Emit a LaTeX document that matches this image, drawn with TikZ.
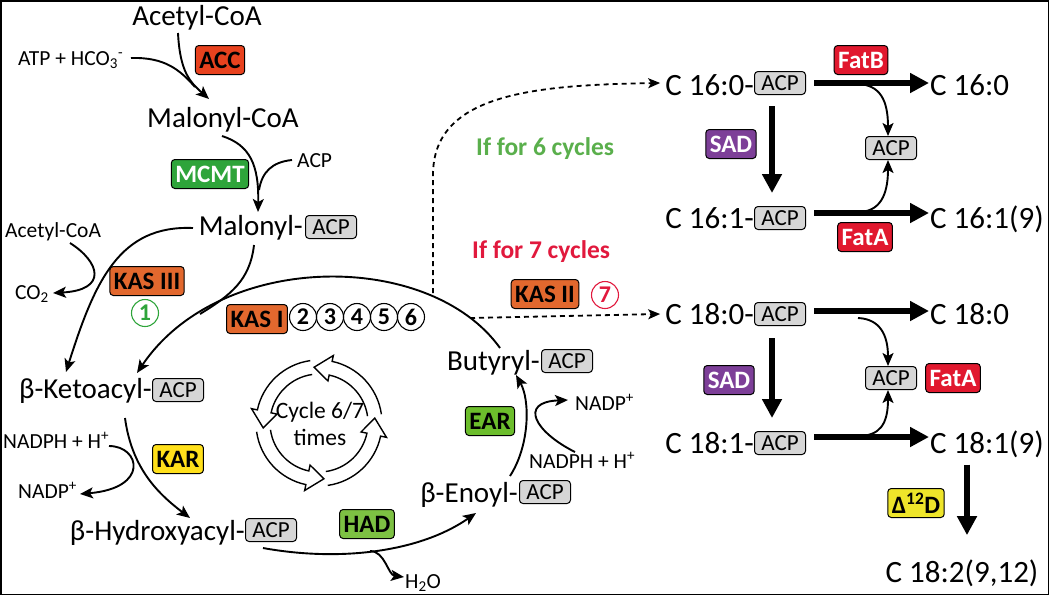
\documentclass[tikz,border=0pt]{standalone}
\usepackage{fontspec}
\setmainfont{Carlito}
\usetikzlibrary{arrows.meta}
\definecolor{accred}{HTML}{E8421E}
\definecolor{mcmtgreen}{HTML}{2EA43A}
\definecolor{kasorange}{HTML}{E2682E}
\definecolor{karyellow}{HTML}{FFE01B}
\definecolor{hadgreen}{HTML}{7DC143}
\definecolor{eargreen}{HTML}{6CBD2C}
\definecolor{fatred}{HTML}{E1182E}
\definecolor{sadpurple}{HTML}{7D3F98}
\definecolor{dyellow}{HTML}{EEE52A}
\definecolor{acpgray}{HTML}{D6D6D6}
\definecolor{sixgreen}{HTML}{5AAF4C}
\definecolor{sevenred}{HTML}{E1193D}
\begin{document}
\begin{tikzpicture}[x=1pt,y=-1pt,
  big/.style={font=\fontsize{29}{31}\selectfont, inner sep=0pt},
  rbig/.style={font=\fontsize{31}{33}\selectfont, inner sep=0pt},
  sm/.style={font=\fontsize{21.5}{23}\selectfont, inner sep=0pt},
  enz/.style={draw=black, line width=1pt, rounded corners=3.5pt, font=\bfseries\fontsize{25}{27}\selectfont, inner xsep=4pt, inner ysep=0pt, minimum height=29pt},
  acp/.style={draw=black, line width=1pt, fill=acpgray, rounded corners=3.5pt, font=\fontsize{23}{23}\selectfont, inner sep=0pt, minimum width=51pt, minimum height=23pt},
  cnum/.style={circle, draw, line width=1.1pt, inner sep=0pt, minimum size=27pt, font=\bfseries\fontsize{24}{24}\selectfont},
  cond/.style={font=\bfseries\fontsize{25.5}{27}\selectfont, inner sep=0pt, anchor=base west},
  arr/.style={line width=1.9pt, -{Stealth[length=13pt,width=11pt,inset=3pt]}},
  plainline/.style={line width=1.9pt},
  bigarr/.style={line width=6pt, -{Triangle[length=19pt,width=19pt]}},
  dotarr/.style={line width=1.8pt, dash pattern=on 5pt off 4pt, -{Stealth[length=12pt,width=10pt,inset=3pt]}},
]
\useasboundingbox (0,0) rectangle (1049,595);
\draw[line width=1.5pt] (0.75,0.75) rectangle (1048.25,594.25);

% ---------- left part ----------
\node[big, anchor=base] (acoa) at (197,25) {Acetyl-CoA};
\node[sm, anchor=base west] (atp) at (18,65) {ATP + HCO\textsubscript{3}\textsuperscript{-}};
\node[enz, fill=accred] (acc) at (220,60) {ACC};
\node[big, anchor=base] (malcoa) at (223,127) {Malonyl-CoA};
\node[enz, fill=mcmtgreen, text=white] (mcmt) at (210,174) {MCMT};
\node[sm, anchor=base west] (acpfree) at (297,167) {ACP};
\node[big, anchor=base east] (malt) at (303,235) {Malonyl-};
\node[acp] (malacp) at (331,227) {ACP};
\node[sm, anchor=base west] (acoa2) at (5,237) {Acetyl-CoA};
\node[sm, anchor=base west] (co2) at (15,299) {CO\textsubscript{2}};
\node[enz, fill=kasorange] (kas3) at (147,281) {KAS III};
\node[cnum, draw=mcmtgreen, text=mcmtgreen] (n1) at (145,313) {1};
\node[enz, fill=kasorange] (kas1) at (257,319) {KAS I};
\node[cnum] (n2) at (303,317) {2};
\node[cnum] (n3) at (330,317) {3};
\node[cnum] (n4) at (357,317) {4};
\node[cnum] (n5) at (384,317) {5};
\node[cnum] (n6) at (411,317) {6};

\node[big, anchor=base east] (ketot) at (152,398) {β-Ketoacyl-};
\node[acp] (ketoacp) at (178,390) {ACP};
\node[sm, anchor=base west] (nadph1) at (3,448) {NADPH + H\textsuperscript{+}};
\node[sm, anchor=base west] (nadp1) at (18,498) {NADP\textsuperscript{+}};
\node[enz, fill=karyellow] (kar) at (178,459) {KAR};
\node[big, anchor=base east] (hydt) at (245,540) {β-Hydroxyacyl-};
\node[acp] (hydacp) at (271,530) {ACP};
\node[enz, fill=hadgreen] (had) at (367,524) {HAD};
\node[sm, anchor=base west] (h2o) at (405,588) {H\textsubscript{2}O};
\node[big, anchor=base east] (enot) at (518,502) {β-Enoyl-};
\node[acp] (enoacp) at (545,492) {ACP};
\node[enz, fill=eargreen] (ear) at (490,421) {EAR};
\node[sm, anchor=base west] (nadp2) at (575,410) {NADP\textsuperscript{+}};
\node[sm, anchor=base west] (nadph2) at (529,468) {NADPH + H\textsuperscript{+}};
\node[big, anchor=base east] (butt) at (540,370) {Butyryl-};
\node[acp] (butacp) at (567,361) {ACP};

\node[align=center, font=\fontsize{23.5}{27}\selectfont, inner sep=0pt] (cyc) at (320,424) {Cycle 6/7\\times};

% cycle icon
\begin{scope}[shift={(319,423)}, yscale=-1, line width=1.4pt]
\foreach \t in {98,188,278,368} {
  \draw (\t:63) arc[start angle=\t, end angle=\t+70, radius=63]
    -- (\t+70:69) -- (\t+87:56) -- (\t+70:43) -- (\t+70:49)
    arc[start angle=\t+70, end angle=\t, radius=49];
}
\end{scope}

% ---------- conditions ----------
\node[cond, text=sixgreen] (if6) at (476,155) {If for 6 cycles};
\node[cond, text=sevenred] (if7) at (472,258) {If for 7 cycles};
\node[enz, fill=kasorange] (kas2) at (545,294) {KAS II};
\node[cnum, draw=sevenred, text=sevenred] (n7) at (605,295) {7};

% ---------- right part ----------
\node[rbig, anchor=base east] (c160t) at (754,95) {C 16:0-};
\node[acp] (c160acp) at (780,83) {ACP};
\node[enz, fill=fatred, text=white] (fatb) at (861,60) {FatB};
\node[rbig, anchor=base west] (c160) at (930,95) {C 16:0};
\node[acp] (acpa) at (891,148) {ACP};
\node[enz, fill=sadpurple, text=white] (sad1) at (731,144) {SAD};
\node[rbig, anchor=base east] (c161t) at (754,228) {C 16:1-};
\node[acp] (c161acp) at (780,218) {ACP};
\node[rbig, anchor=base west] (c161) at (930,228) {C 16:1(9)};
\node[enz, fill=fatred, text=white] (fata1) at (865,237) {FatA};

\node[rbig, anchor=base east] (c180t) at (754,324) {C 18:0-};
\node[acp] (c180acp) at (780,314) {ACP};
\node[rbig, anchor=base west] (c180) at (930,324) {C 18:0};
\node[acp] (acpb) at (891,378) {ACP};
\node[enz, fill=fatred, text=white] (fata2) at (953,378) {FatA};
\node[enz, fill=sadpurple, text=white] (sad2) at (729,380) {SAD};
\node[rbig, anchor=base east] (c181t) at (754,453) {C 18:1-};
\node[acp] (c181acp) at (780,443) {ACP};
\node[rbig, anchor=base west] (c181) at (930,453) {C 18:1(9)};
\node[enz, fill=dyellow] (d12) at (916,503) {Δ\textsuperscript{12}D};
\node[rbig, anchor=base] (c182) at (962,582) {C 18:2(9,12)};

% ---------- connector end points ----------
\coordinate (accS) at (178,33);
\coordinate (accE) at (209,99);
\coordinate (atpS) at (131,58);
\coordinate (atpM) at (195,87);
\coordinate (mcmtS) at (222,136);
\coordinate (mcmtE) at (258,212);
\coordinate (acpS) at (292,160);
\coordinate (acpM) at (259,190);
\coordinate (k3S) at (193,228);
\coordinate (k3E) at (66,372);
\coordinate (a2S) at (70,243);
\coordinate (co2E) at (53,293);
\coordinate (arcS) at (500,348);
\coordinate (arcE) at (137,373);
\coordinate (malS) at (254,245);
\coordinate (malM) at (200,314);
\coordinate (karS) at (125,418);
\coordinate (karE) at (190,518);
\coordinate (nS) at (109,446);
\coordinate (nE) at (80,494);
\coordinate (hadS) at (263,548);
\coordinate (hadE) at (476,513);
\coordinate (h2oS) at (370,551);
\coordinate (h2oE) at (404,577);
\coordinate (earS) at (510,476);
\coordinate (earE) at (516,375);
\coordinate (n2S) at (575,452);
\coordinate (n2E) at (568,400);
\coordinate (d1S) at (433,293);
\coordinate (d1M) at (433,175);
\coordinate (d2S) at (470,318);
\coordinate (d12top) at ([xshift=37pt,yshift=-7pt]c181.south west);
\coordinate (d12bot) at ([yshift=24pt]c182.north);

% ---------- connectors ----------
\draw[arr] (accS) .. controls (180,72) and (190,82) .. (accE);
\draw[plainline] (atpS) .. controls (165,57) and (180,70) .. (atpM);
\draw[arr] (mcmtS) .. controls (250,145) and (259,165) .. (mcmtE);
\draw[plainline] (acpS) .. controls (272,162) and (262,172) .. (acpM);
\draw[arr] (k3S) .. controls (120,225) and (95,280) .. (k3E);
\draw[arr] (a2S) .. controls (100,262) and (108,290) .. (co2E);
\draw[arr] (arcS) .. controls (430,250) and (220,250) .. (arcE);
\draw[plainline] (malS) .. controls (250,280) and (231,295) .. (malM);
\draw[arr] (karS) .. controls (132,470) and (160,495) .. (karE);
\draw[arr] (nS) .. controls (140,446) and (150,488) .. (nE);
\draw[arr] (hadS) .. controls (340,562) and (420,552) .. (hadE);
\draw[arr] (h2oS) .. controls (385,551) and (388,575) .. (h2oE);
\draw[arr] (earS) .. controls (530,445) and (530,400) .. (earE);
\draw[arr] (n2S) .. controls (535,432) and (518,402) .. (n2E);

\draw[dotarr] (d1S) -- (d1M) .. controls (433,95) and (530,85) .. ([xshift=-5pt]c160t.west |- c160acp.center);
\draw[dotarr] (d2S) -- ([xshift=-5pt]c180t.west |- c180acp.center);

% right side thick arrows
\draw[bigarr] ([xshift=8pt]c160acp.east) -- ([xshift=-1pt]c160.west |- c160acp.east);
\draw[bigarr] ([xshift=8pt,yshift=5pt]c161acp.east) -- ([xshift=-1pt,yshift=5pt]c161.west |- c161acp.east);
\draw[bigarr] ([xshift=8pt,yshift=3pt]c180acp.east) -- ([xshift=-1pt,yshift=3pt]c180.west |- c180acp.east);
\draw[bigarr] ([xshift=8pt,yshift=6pt]c181acp.east) -- ([xshift=-1pt,yshift=6pt]c181.west |- c181acp.east);
\draw[bigarr] ([xshift=-8pt,yshift=-11pt]c160acp.south) -- ([xshift=-8pt,yshift=13pt]c161acp.north);
\draw[bigarr] ([xshift=-8pt,yshift=-12pt]c180acp.south) -- ([xshift=-8pt,yshift=13pt]c181acp.north);
\draw[bigarr] (d12top) -- (d12top |- d12bot);

% curved release arrows
\draw[arr] (858,84) .. controls (880,85) and (888,100) .. (acpa.north -| 888,0);
\draw[arr] (858,212) .. controls (880,212) and (888,195) .. (acpa.south -| 888,0);
\draw[arr] (858,318) .. controls (880,319) and (888,335) .. (acpb.north -| 888,0);
\draw[arr] (858,436) .. controls (880,436) and (888,424) .. (acpb.south -| 888,0);
\end{tikzpicture}
\end{document}
